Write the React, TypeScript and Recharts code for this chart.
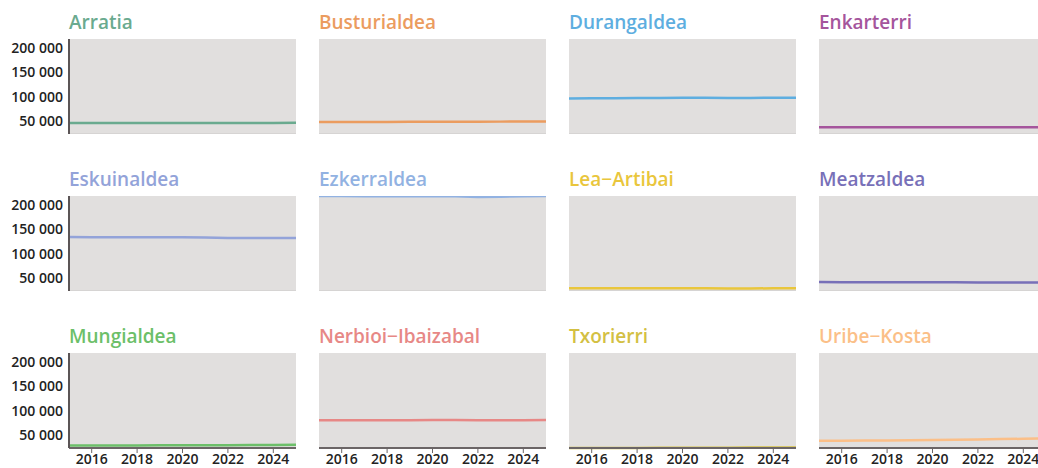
import React from 'react';
import { LineChart, Line, XAxis, YAxis, CartesianGrid, ReferenceLine } from 'recharts';

const years = [2015, 2016, 2017, 2018, 2019, 2020, 2021, 2022, 2023, 2024, 2025];
const xTicks = [2016, 2018, 2020, 2022, 2024];
const yTicks = [50000, 100000, 150000, 200000];

const regions = [
  'Arratia', 'Busturialdea', 'Durangaldea', 'Enkarterri',
  'Eskuinaldea', 'Ezkerraldea', 'Lea−Artibai', 'Meatzaldea',
  'Mungialdea', 'Nerbioi−Ibaizabal', 'Txorierri', 'Uribe−Kosta',
];

const colors = [
  '#6aaa8f', '#eb9c5f', '#5eaee0', '#a5559c',
  '#93a3d9', '#92b2e2', '#e9c63c', '#7870b8',
  '#6cbf69', '#e78886', '#d3c043', '#fbbf88',
];

const arratia = [44800, 44900, 45000, 45000, 45100, 45200, 45200, 45100, 45200, 45300, 45400];
const busturialdea = [47000, 47100, 47200, 47300, 47500, 47600, 47700, 47700, 47900, 48100, 48300];
const durangaldea = [96000, 96300, 96600, 96900, 97200, 97500, 97300, 96900, 97100, 97400, 97700];
const enkarterri = [36400, 36300, 36200, 36100, 36100, 36200, 36100, 36000, 36100, 36200, 36300];
const eskuinaldea = [134200, 134000, 133900, 133800, 133800, 133900, 133500, 132400, 132300, 132400, 132500];
const ezkerraldea = [219500, 219300, 219100, 219000, 219100, 219200, 218800, 217600, 218200, 218900, 219400];
const leaArtibai = [28000, 27900, 27900, 27800, 27900, 28000, 27900, 27600, 27600, 27700, 27700];
const meatzaldea = [40800, 40600, 40500, 40400, 40400, 40400, 40200, 39800, 39700, 39800, 39900];
const mungialdea = [27200, 27300, 27400, 27500, 27700, 27900, 28000, 28100, 28300, 28600, 28900];
const nerbioiIbaizabal = [79800, 79700, 79600, 79700, 80000, 80300, 80100, 79600, 79700, 79900, 80100];
const txorierri = [22200, 22300, 22300, 22400, 22500, 22700, 22800, 22900, 23000, 23100, 23200];
const uribeKosta = [37200, 37400, 37700, 38000, 38300, 38600, 39200, 40000, 40700, 41300, 41900];

const series = [
  arratia, busturialdea, durangaldea, enkarterri,
  eskuinaldea, ezkerraldea, leaArtibai, meatzaldea,
  mungialdea, nerbioiIbaizabal, txorierri, uribeKosta,
];

const allValues = series.flat();
const yMin = Math.min(...allValues);
const yMax = Math.max(...allValues);

const FONT = '"Open Sans", "Noto Sans", sans-serif';
const PLOT_W = 227;
const PLOT_H = 95;
const AXIS_W = 69;
const X_AXIS_H = 26;
const colLeft = [69, 319, 569, 819];
const rowTop = [39, 196, 353];

const fmt = (v: number) => String(v).replace(/\B(?=(\d{3})+(?!\d))/g, ' ');

const tickStyle = { fontSize: 14, fill: '#222', fontFamily: FONT, fontWeight: 600 };

const Panel: React.FC<{ idx: number }> = ({ idx }) => {
  const col = idx % 4;
  const row = Math.floor(idx / 4);
  const first = col === 0;
  const bottom = row === 2;
  const data = years.map((y, i) => ({ year: y, value: series[idx][i] }));
  const left = first ? colLeft[col] - AXIS_W : colLeft[col];
  const width = first ? PLOT_W + AXIS_W : PLOT_W;
  const height = bottom ? PLOT_H + X_AXIS_H : PLOT_H;

  return (
    <>
      <div
        style={{
          position: 'absolute',
          left: colLeft[col],
          top: rowTop[row] - 27,
          fontSize: 19,
          fontWeight: 600,
          lineHeight: '20px',
          color: colors[idx],
          whiteSpace: 'nowrap',
        }}
      >
        {regions[idx]}
      </div>
      <div style={{ position: 'absolute', left, top: rowTop[row] }}>
        <LineChart
          width={width}
          height={height}
          data={data}
          margin={{ top: 0, right: 0, bottom: 0, left: 0 }}
        >
          <CartesianGrid fill="#e1dfde" stroke="none" horizontal={false} vertical={false} />
          <XAxis
            dataKey="year"
            type="number"
            domain={[2015, 2025]}
            ticks={xTicks}
            hide={!bottom}
            height={X_AXIS_H}
            axisLine={{ stroke: '#6b6566', strokeWidth: 2 }}
            tickLine={{ stroke: '#6b6566' }}
            tickSize={5}
            tickMargin={1}
            tick={tickStyle}
          />
          <YAxis
            type="number"
            domain={[yMin, yMax]}
            ticks={yTicks}
            hide={!first}
            width={AXIS_W}
            axisLine={{ stroke: '#5b5556', strokeWidth: 2 }}
            tickLine={false}
            tickSize={0}
            tickMargin={6}
            tickFormatter={fmt}
            tick={tickStyle}
          />
          {!bottom && <ReferenceLine y={yMin} stroke="#d6d4d3" strokeWidth={2} />}
          <Line
            type="linear"
            dataKey="value"
            stroke={colors[idx]}
            strokeWidth={2.5}
            dot={false}
            isAnimationActive={false}
          />
        </LineChart>
      </div>
    </>
  );
};

export default function App() {
  return (
    <div
      style={{
        position: 'fixed',
        left: 0,
        top: 0,
        width: 1038,
        height: 468,
        overflow: 'hidden',
        background: '#fff',
        fontFamily: FONT,
      }}
    >
      {regions.map((_, i) => (
        <Panel key={i} idx={i} />
      ))}
    </div>
  );
}
